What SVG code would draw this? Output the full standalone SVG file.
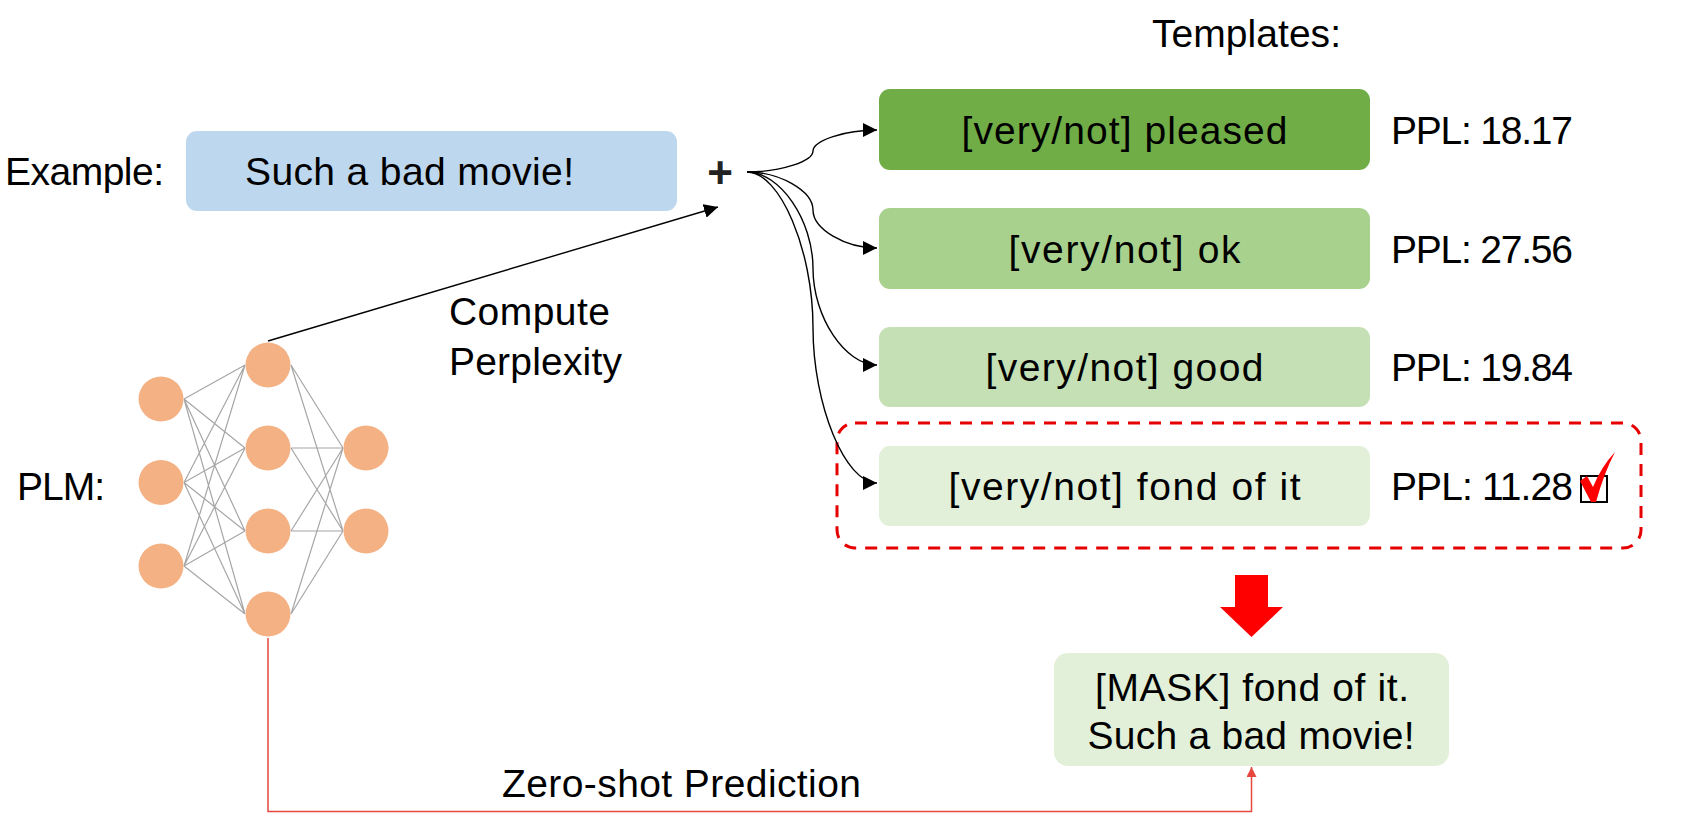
<svg xmlns="http://www.w3.org/2000/svg" width="1681" height="837" viewBox="0 0 1681 837">
<defs>
<style>
.t{font-family:"Liberation Sans",Arial,sans-serif;font-size:39px;fill:#000}
.c{text-anchor:middle}
.nn{fill:#F4B183}
.w{stroke:#A6A6A6;stroke-width:1.2;fill:none}
.k{stroke:#000;stroke-width:1.4;fill:none}
</style>
<marker id="ah" markerUnits="userSpaceOnUse" viewBox="0 0 13 13" refX="13" refY="6.5" markerWidth="14" markerHeight="14" orient="auto">
<path d="M0,0 L13,6.5 L0,13 z" fill="#000"/>
</marker>
<marker id="ahr" markerUnits="userSpaceOnUse" viewBox="0 0 10 10" refX="10" refY="5" markerWidth="10" markerHeight="10" orient="auto">
<path d="M0,0 L10,5 L0,10 z" fill="#E8473F"/>
</marker>
</defs>
<rect width="1681" height="837" fill="#fff"/>

<text class="t" x="1152" y="47" textLength="189">Templates:</text>

<g id="example-label"><text class="t" x="5" y="185" textLength="159">Example:</text></g>
<g id="example">
<rect x="186" y="131" width="491" height="80" rx="11" fill="#BDD7EE"/>
<text class="t" x="245" y="185" textLength="329">Such a bad movie!</text>
</g>
<g id="plus"><text x="720" y="188" font-family="Liberation Sans,Arial,sans-serif" font-size="44" font-weight="bold" text-anchor="middle" fill="#222">+</text></g>

<g id="t1"><rect x="879" y="89" width="491" height="81" rx="11" fill="#70AD47"/><text class="t c" x="1124.5" y="143.5" textLength="326">[very/not] pleased</text></g>
<g id="t2"><rect x="879" y="208" width="491" height="81" rx="11" fill="#A9D18E"/><text class="t c" x="1124.5" y="262.5" textLength="232">[very/not] ok</text></g>
<g id="t3"><rect x="879" y="327" width="491" height="80" rx="11" fill="#C5E0B4"/><text class="t c" x="1124.5" y="381" textLength="278">[very/not] good</text></g>
<g id="t4"><rect x="879" y="446" width="491" height="80" rx="11" fill="#E2F0D9"/><text class="t c" x="1124.5" y="500" textLength="352">[very/not] fond of it</text></g>

<g id="ppl1"><text class="t" x="1391" y="143.5" textLength="182">PPL: 18.17</text></g>
<g id="ppl2"><text class="t" x="1391" y="262.5" textLength="182">PPL: 27.56</text></g>
<g id="ppl3"><text class="t" x="1391" y="381" textLength="182">PPL: 19.84</text></g>
<g id="ppl4"><text class="t" x="1391" y="500" textLength="182">PPL: 11.28</text>
<rect x="1581" y="476" width="26" height="26" fill="none" stroke="#000" stroke-width="2"/>
<path d="M1580,481 L1587,476 L1593,487 Q1601,467 1615,452 Q1604,473 1596,502 L1591,502 Z" fill="#FF0000"/>
</g>

<g id="selection"><rect x="837" y="423" width="804" height="125" rx="18" fill="none" stroke="#E60000" stroke-width="3" stroke-dasharray="12 9"/></g>

<g id="bigarrow"><path d="M1235,575 L1268,575 L1268,607 L1283,607 L1251.5,637 L1220,607 L1235,607 Z" fill="#FF0000"/></g>

<g id="result">
<rect x="1054" y="653" width="395" height="113" rx="14" fill="#E2F0D9"/>
<text class="t c" x="1252" y="701" textLength="314">[MASK] fond of it.</text>
<text class="t c" x="1251" y="749" textLength="327">Such a bad movie!</text>
</g>

<g id="plm-label"><text class="t" x="17" y="500" textLength="88">PLM:</text></g>

<g id="plm">
<g class="w">
<path d="M184 399 L245 365 M184 399 L245 448 M184 399 L245 531 M184 399 L245 614
M184 482.5 L245 365 M184 482.5 L245 448 M184 482.5 L245 531 M184 482.5 L245 614
M184 566 L245 365 M184 566 L245 448 M184 566 L245 531 M184 566 L245 614
M291 365 L343 448 M291 365 L343 531 M291 448 L343 448 M291 448 L343 531
M291 531 L343 448 M291 531 L343 531 M291 614 L343 448 M291 614 L343 531"/>
</g>
<circle class="nn" cx="161" cy="399" r="22.5"/>
<circle class="nn" cx="161" cy="482.5" r="22.5"/>
<circle class="nn" cx="161" cy="566" r="22.5"/>
<circle class="nn" cx="268" cy="365" r="22.5"/>
<circle class="nn" cx="268" cy="448" r="22.5"/>
<circle class="nn" cx="268" cy="531" r="22.5"/>
<circle class="nn" cx="268" cy="614" r="22.5"/>
<circle class="nn" cx="366" cy="448" r="22.5"/>
<circle class="nn" cx="366" cy="531" r="22.5"/>
</g>

<g id="connectors">
<path class="k" d="M268,341 L718,207" marker-end="url(#ah)"/>
<path class="k" d="M747,172 C780,172 813,161.5 813,151 C813,140.5 845,130 877,130" marker-end="url(#ah)"/>
<path class="k" d="M747,172 C780,172 813,191 813,210 C813,229 845,248 877,248" marker-end="url(#ah)"/>
<path class="k" d="M747,172 C780,172 813,220 813,268.5 C813,317 845,365 877,365" marker-end="url(#ah)"/>
<path class="k" d="M747,172 C780,172 813,250 813,327.5 C813,405 845,483 877,483" marker-end="url(#ah)"/>
<path d="M268,638 L268,811.5 L1251.5,811.5 L1251.5,767" fill="none" stroke="#E8473F" stroke-width="1.5" marker-end="url(#ahr)"/>
</g>
<text class="t" x="449" y="325" textLength="161">Compute</text>
<text class="t" x="449" y="375" textLength="173">Perplexity</text>
<text class="t" x="502" y="797" textLength="359">Zero-shot Prediction</text>
</svg>
